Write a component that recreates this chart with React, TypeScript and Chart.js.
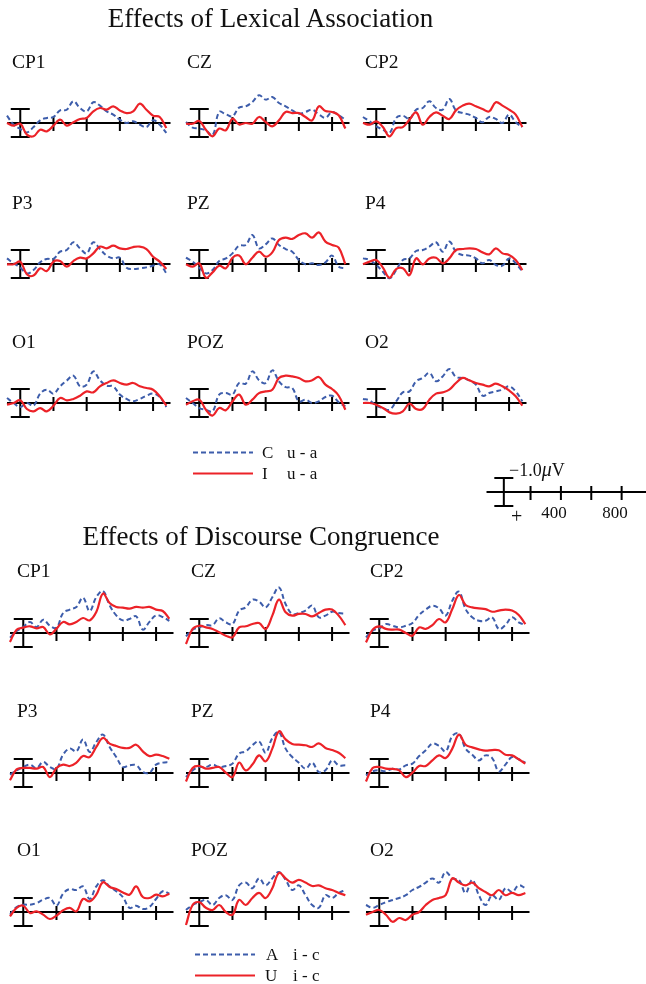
import React, { useEffect, useRef } from "react";
import { Chart, registerables } from "chart.js";

Chart.register(...registerables);

// ---------- data ----------
const TIMES_MS = [-80, -40, 0, 40, 80, 120, 160, 200, 240, 280, 320, 360, 400, 440, 480, 520, 560, 600, 640, 680, 720, 760, 800, 840, 880];
const TICK_MS = [200, 400, 600, 800];
const ELECTRODES = ["CP1", "CZ", "CP2", "P3", "PZ", "P4", "O1", "POZ", "O2"];
const SCALE_TICK_LABELS = ["400", "800"];

// Effects of Lexical Association (µV, negative up)
const lexC_CP1 = [-0.52, 0.12, 0.43, 0.67, 0.29, -0.19, -0.36, -0.43, -0.9, -0.95, -1.55, -1.07, -0.83, -1.48, -1.24, -0.83, -0.6, -0.24, 0, -0.12, 0.12, 0.29, -0.19, 0.12, 0.71];
const lexI_CP1 = [0, 0.19, 0.05, 0.83, 0.95, 0.48, 0.6, 0.19, -0.24, 0.19, -0.05, -0.29, -0.36, -0.83, -1.07, -0.95, -1.19, -0.9, -0.71, -0.83, -1.38, -0.95, -0.52, -0.43, 0.36];
const lexC_CZ = [-0.07, 0.33, 0.4, 0.52, 0.88, -0.79, -0.62, -0.48, -1.1, -1.19, -1.5, -1.98, -1.67, -1.86, -1.43, -1.19, -0.9, -0.67, -0.79, -0.95, -0.62, -0.38, -0.79, -0.55, -0.24];
const lexI_CZ = [0.05, 0.05, -0.14, 0.48, 0.95, 0.4, 0.52, -0.31, 0.1, 0, 0.05, -0.43, -0.07, 0.24, -0.19, -0.79, -0.71, -0.71, -0.43, -0.19, -1.19, -0.86, -0.79, -0.55, 0.4];
const lexC_CP2 = [-0.43, -0.12, 0.24, 0.48, 0.71, -0.36, -0.52, -0.29, -0.95, -1.07, -1.55, -1.07, -0.95, -1.71, -0.9, -0.71, -0.6, -0.36, -0.05, -0.43, -0.29, 0, -0.6, -0.05, 0.29];
const lexI_CP2 = [0, 0.12, -0.12, 0.29, 0.95, 0.36, 0.29, -0.24, -0.76, 0.12, -0.43, -0.76, -0.52, -0.29, -0.9, -1.24, -1.38, -1.19, -1.0, -0.83, -1.48, -1.24, -0.95, -0.6, 0.29];
const lexC_P3 = [-0.4, -0.05, 0.26, 0.67, 0.43, -0.12, -0.36, -0.36, -0.88, -1.0, -1.55, -1.12, -0.76, -1.55, -1.07, -0.6, -0.4, -0.45, 0.26, 0.36, 0.31, 0.24, 0.12, 0.02, 0.67];
const lexI_P3 = [0.02, 0.02, -0.17, 0.74, 0.83, 0.31, 0.5, -0.17, -0.21, 0.19, -0.21, -0.45, -0.4, -0.76, -1.24, -1.12, -1.31, -1.12, -1.07, -1.21, -1.24, -1.07, -0.52, -0.17, 0.36];
const lexC_PZ = [-0.45, -0.17, 0.26, 0.67, 0.43, -0.21, -0.4, -0.76, -1.31, -1.36, -2.07, -1.12, -1.4, -1.83, -1.36, -1.07, -0.88, -0.29, 0.02, -0.05, 0.07, -0.12, -0.6, 0.19, 0.31];
const lexI_PZ = [0.02, 0.19, -0.05, 0.98, 0.6, 0.12, 0.31, -0.45, -0.6, 0.02, -0.45, -0.88, -0.52, -0.83, -1.71, -1.88, -1.79, -2.07, -2.19, -1.88, -2.26, -1.6, -1.36, -1.17, 0.02];
const lexC_P4 = [-0.4, -0.29, 0.07, 0.55, 1.02, 0.43, -0.29, -0.4, -0.93, -1.0, -1.24, -1.55, -0.88, -1.6, -0.88, -0.64, -0.6, -0.4, -0.05, -0.29, 0.07, 0.12, -0.4, -0.05, 0.55];
const lexI_P4 = [0.02, -0.17, -0.29, 0.26, 0.98, 0.36, 0.31, 0.79, -0.4, 0.02, -0.4, -0.45, -0.05, -0.4, -1.0, -1.07, -1.12, -1.07, -0.83, -0.69, -1.12, -0.76, -0.64, -0.29, 0.43];
const lexC_O1 = [-0.36, 0, 0.29, 0, 0.19, -0.67, -0.95, -0.67, -1.19, -1.6, -1.95, -1.19, -1.31, -2.26, -1.62, -1.24, -1.19, -0.6, -0.29, -0.12, -0.29, -0.52, -0.67, -0.43, 0.29];
const lexI_O1 = [0.12, 0, -0.19, 0.43, 0.6, 0.36, 0.6, 0.19, -0.36, -0.19, -0.29, -0.52, -0.83, -0.76, -1.19, -1.43, -1.62, -1.43, -1.31, -1.43, -1.19, -1.07, -0.95, -0.48, 0.19];
const lexC_POZ = [-0.36, 0, 0.36, 0.48, 0.6, -0.6, -0.71, -0.6, -1.43, -1.38, -2.26, -1.62, -1.43, -2.33, -1.55, -1.14, -1.07, -0.12, -0.24, 0, -0.12, -0.43, -0.52, -0.05, 0.24];
const lexI_POZ = [0.12, -0.12, -0.24, 0.48, 0.9, 0.36, 0.52, -0.12, -0.6, 0.12, -0.24, -0.71, -0.83, -0.95, -1.79, -1.95, -1.9, -1.79, -1.55, -1.62, -1.86, -1.31, -1.0, -0.52, 0.48];
const lexC_O2 = [-0.29, -0.19, 0.19, 0.36, 0.48, -0.12, -0.76, -0.83, -1.55, -1.79, -2.14, -1.55, -1.9, -2.43, -1.86, -1.79, -1.62, -1.31, -0.52, -0.71, -0.83, -0.95, -1.19, -0.83, -0.12];
const lexI_O2 = [0, 0, 0.12, 0.36, 0.67, 0.76, 0.6, 0.05, 0.43, 0.43, -0.24, -0.67, -0.76, -0.95, -1.43, -1.79, -1.62, -1.43, -1.31, -1.19, -1.38, -1.19, -0.9, -0.48, 0.19];

// Effects of Discourse Congruence
const disA_CP1 = [0.33, -0.14, -0.43, -0.79, -0.43, -0.95, -0.52, -0.38, -1.43, -1.67, -1.86, -2.52, -1.57, -2.57, -3.0, -1.98, -1.26, -0.9, -1.0, -1.19, -0.24, -0.79, -1.26, -1.14, -0.86];
const disU_CP1 = [0.64, -0.24, -0.38, -0.48, -0.33, -0.43, 0.1, -0.31, -0.79, -0.62, -0.79, -1.07, -0.9, -1.5, -2.81, -2.14, -1.86, -1.81, -1.74, -1.86, -1.81, -1.86, -1.67, -1.57, -1.02];
const disA_CZ = [0.24, -0.24, -0.4, -0.57, -0.57, -1.05, -0.76, -0.64, -1.6, -1.83, -2.38, -2.24, -1.83, -2.55, -3.26, -2.07, -1.36, -1.43, -1.6, -1.95, -1.12, -1.24, -1.52, -1.43, -1.36];
const disU_CZ = [0.79, -0.29, -0.52, -0.4, -0.29, -0.05, 0.19, 0.31, -0.4, -0.48, -0.64, -0.71, -0.29, -1.24, -2.38, -1.48, -1.24, -1.36, -1.36, -1.19, -1.43, -1.67, -1.67, -1.24, -0.57];
const disA_CP2 = [0.31, -0.17, -0.33, -0.64, -0.52, -0.4, -0.52, -0.71, -1.29, -1.67, -1.95, -1.76, -1.24, -2.31, -2.95, -1.71, -1.12, -0.88, -0.88, -1.12, -0.29, -0.57, -1.12, -0.76, -0.57];
const disU_CP2 = [0.67, -0.24, -0.48, -0.29, -0.24, -0.24, 0, 0.19, -0.4, -0.29, -0.57, -1.0, -0.76, -1.71, -2.71, -2.0, -1.83, -1.76, -1.71, -1.52, -1.6, -1.67, -1.6, -1.29, -0.64];
const disA_P3 = [0.12, -0.19, -0.43, -0.6, -0.36, -0.79, -0.43, -0.31, -1.31, -1.74, -1.55, -2.4, -1.5, -2.21, -2.74, -1.86, -1.14, -0.43, -0.55, -0.55, -0.07, -0.02, -0.6, -0.74, -0.79];
const disU_P3 = [0.52, -0.26, -0.36, -0.36, -0.31, -0.43, 0.29, -0.36, -0.6, -0.5, -0.74, -1.21, -1.14, -1.86, -2.5, -2.1, -1.93, -1.79, -1.79, -2.02, -1.55, -1.21, -1.31, -1.21, -1.02];
const disA_PZ = [0.29, -0.19, -0.43, -0.43, -0.6, -0.43, -0.5, -0.67, -1.38, -1.55, -1.98, -2.26, -1.45, -2.5, -2.93, -1.74, -1.14, -0.74, -0.31, -0.74, -0.07, -0.19, -0.9, -0.55, -0.55];
const disU_PZ = [0.6, -0.36, -0.5, -0.31, -0.36, -0.43, -0.02, 0.29, -0.74, -0.19, -0.6, -1.26, -0.83, -1.74, -2.98, -2.4, -2.07, -2.02, -1.98, -1.86, -2.12, -1.79, -1.64, -1.45, -1.07];
const disA_P4 = [0.17, -0.12, -0.19, -0.12, -0.31, -0.26, -0.55, -0.67, -1.21, -1.62, -2.1, -1.93, -1.55, -2.64, -2.81, -1.74, -1.31, -0.9, -1.26, -1.07, -0.12, -0.6, -1.14, -0.98, -0.74];
const disU_P4 = [0.6, -0.36, -0.43, -0.31, -0.29, -0.19, 0.29, -0.02, -0.5, -0.5, -0.9, -1.26, -1.07, -1.74, -2.74, -2.02, -1.83, -1.69, -1.6, -1.64, -1.62, -1.31, -1.26, -0.98, -0.67];
const disA_O1 = [0.19, -0.36, -0.52, -0.52, -0.64, -0.88, -1.0, -0.45, -1.31, -1.64, -1.57, -1.83, -0.93, -1.83, -2.26, -1.83, -1.48, -1.07, -0.29, -0.45, -0.21, -0.36, -0.93, -1.48, -1.31];
const disU_O1 = [0.31, -0.29, -0.45, 0.07, -0.05, 0.19, 0.5, 0.26, -0.12, -0.29, -0.05, -0.93, -0.76, -1.24, -2.12, -1.79, -1.64, -1.4, -1.24, -1.83, -1.07, -1.0, -1.24, -1.12, -1.31];
const disA_POZ = [-0.14, -0.5, -0.7, -0.86, -0.5, -1.0, -1.2, -0.86, -1.9, -2.1, -1.7, -2.4, -1.9, -2.4, -2.86, -2.3, -1.57, -1.9, -1.2, -0.5, -0.3, -1.2, -1.0, -1.36, -1.57];
const disU_POZ = [0.93, -0.5, -0.7, -0.3, -0.14, -0.5, 0, 0.2, -0.86, -0.5, -1.0, -1.36, -1.0, -1.7, -2.8, -2.4, -2.1, -2.3, -2.1, -1.86, -1.9, -1.7, -1.57, -1.36, -1.2];
const disA_O2 = [-0.5, -0.3, -0.5, -0.7, -0.86, -1.0, -1.2, -1.57, -1.8, -2.1, -2.4, -2.1, -2.86, -2.4, -2.3, -1.36, -2.3, -1.2, -0.5, -1.2, -0.86, -1.7, -1.43, -1.9, -1.7];
const disU_O2 = [0.2, 0, -0.14, 0.2, 0.7, 0.43, 0.57, 0.2, 0, -0.5, -0.86, -1.0, -1.2, -2.4, -2.1, -1.9, -2.1, -1.7, -1.43, -1.2, -1.57, -1.2, -1.36, -1.2, -1.36];

const LEX_BLUE = [lexC_CP1, lexC_CZ, lexC_CP2, lexC_P3, lexC_PZ, lexC_P4, lexC_O1, lexC_POZ, lexC_O2];
const LEX_RED = [lexI_CP1, lexI_CZ, lexI_CP2, lexI_P3, lexI_PZ, lexI_P4, lexI_O1, lexI_POZ, lexI_O2];
const DIS_BLUE = [disA_CP1, disA_CZ, disA_CP2, disA_P3, disA_PZ, disA_P4, disA_O1, disA_POZ, disA_O2];
const DIS_RED = [disU_CP1, disU_CZ, disU_CP2, disU_P3, disU_PZ, disU_P4, disU_O1, disU_POZ, disU_O2];

// ---------- styling / layout ----------
const BLUE = "#3d5dab";
const RED = "#ec2228";
const FONT = "'Liberation Serif', 'Times New Roman', serif";

const PANEL_W = 171;
const PANEL_H = 70;
const X_MIN = -110;
const X_MAX = 920;
const Y_MIN = -3.5;
const Y_MAX = 1.5;
const ZERO_X = (0 - X_MIN) * PANEL_W / (X_MAX - X_MIN);
const ZERO_Y = (0 - Y_MIN) * PANEL_H / (Y_MAX - Y_MIN);

const TOP_GROUP = { barX: [20, 199, 376], base: [123, 264, 403], labelX: [12, 187, 365], labelDy: 55 };
const BOT_GROUP = { barX: [23, 199, 379], base: [633, 773, 912], labelX: [17, 191, 370], labelDy: 56 };

const erpAxesPlugin = {
  id: "erpAxes",
  beforeDatasetsDraw(chart: any, _args: any, opts: any) {
    const { ctx } = chart;
    const x = chart.scales.x;
    const y = chart.scales.y;
    const y0 = y.getPixelForValue(0);
    ctx.save();
    ctx.strokeStyle = "#000";
    ctx.lineWidth = 2;
    ctx.lineCap = "butt";
    ctx.beginPath();
    ctx.moveTo(x.getPixelForValue(opts.from), y0);
    ctx.lineTo(x.getPixelForValue(opts.to), y0);
    for (const t of opts.ticks) {
      const px = x.getPixelForValue(t);
      ctx.moveTo(px, y0 - opts.tickUp);
      ctx.lineTo(px, y0 + opts.tickDown);
    }
    const bx = x.getPixelForValue(opts.barTime);
    const yTop = y.getPixelForValue(-opts.barUv);
    const yBot = y.getPixelForValue(opts.barUv);
    ctx.moveTo(bx, yTop);
    ctx.lineTo(bx, yBot);
    ctx.moveTo(bx - opts.cap, yTop);
    ctx.lineTo(bx + opts.cap, yTop);
    ctx.moveTo(bx - opts.cap, yBot);
    ctx.lineTo(bx + opts.cap, yBot);
    ctx.stroke();
    ctx.restore();
  },
};

type PanelProps = {
  left: number;
  top: number;
  width: number;
  xMin: number;
  xMax: number;
  blue?: number[];
  red?: number[];
  axisFrom: number;
  axisTo: number;
  barTime: number;
};

function ErpPanel({ left, top, width, xMin, xMax, blue, red, axisFrom, axisTo, barTime }: PanelProps) {
  const ref = useRef<HTMLCanvasElement>(null);
  useEffect(() => {
    if (!ref.current) return;
    const datasets: any[] = [];
    if (red) {
      datasets.push({
        label: "red",
        data: TIMES_MS.map((t, i) => ({ x: t, y: red[i] })),
        borderColor: RED,
        borderWidth: 2.2,
        pointRadius: 0,
        tension: 0.4,
        fill: false,
      });
    }
    if (blue) {
      datasets.push({
        label: "blue",
        data: TIMES_MS.map((t, i) => ({ x: t, y: blue[i] })),
        borderColor: BLUE,
        borderWidth: 2,
        borderDash: [5, 3],
        pointRadius: 0,
        tension: 0.4,
        fill: false,
      });
    }
    const chart = new Chart(ref.current, {
      type: "line",
      data: { datasets },
      options: {
        animation: false,
        responsive: false,
        maintainAspectRatio: false,
        events: [],
        layout: { padding: 0 },
        scales: {
          x: { type: "linear", min: xMin, max: xMax, display: false },
          y: { type: "linear", min: Y_MIN, max: Y_MAX, reverse: true, display: false },
        },
        plugins: {
          legend: { display: false },
          tooltip: { enabled: false },
          title: { display: false },
          erpAxes: {
            from: axisFrom,
            to: axisTo,
            ticks: TICK_MS,
            tickUp: 6,
            tickDown: 8,
            barTime,
            barUv: 1,
            cap: 9.5,
          },
        } as any,
      },
      plugins: [erpAxesPlugin],
    });
    return () => chart.destroy();
  }, [blue, red, xMin, xMax, axisFrom, axisTo, barTime]);
  return (
    <canvas
      ref={ref}
      width={width}
      height={PANEL_H}
      style={{ position: "absolute", left, top, width, height: PANEL_H }}
    />
  );
}

function Group({ g, blues, reds }: { g: typeof TOP_GROUP; blues: number[][]; reds: number[][] }) {
  const items: any[] = [];
  ELECTRODES.forEach((name, i) => {
    const r = Math.floor(i / 3);
    const c = i % 3;
    items.push(
      <ErpPanel
        key={name}
        left={Math.round(g.barX[c] - ZERO_X)}
        top={g.base[r] - ZERO_Y}
        width={PANEL_W}
        xMin={X_MIN}
        xMax={X_MAX}
        blue={blues[i]}
        red={reds[i]}
        axisFrom={-80}
        axisTo={905}
        barTime={0}
      />
    );
  });
  return <>{items}</>;
}

function GroupLabels({ g }: { g: typeof TOP_GROUP }) {
  return (
    <>
      {ELECTRODES.map((name, i) => {
        const r = Math.floor(i / 3);
        const c = i % 3;
        return (
          <text key={name} x={g.labelX[c]} y={g.base[r] - g.labelDy} fontSize={19.5} fontFamily={FONT} fill="#111">
            {name}
          </text>
        );
      })}
    </>
  );
}

// scale legend mapping
const SCALE_W = 167;
const SCALE_XMIN = -100;
const SCALE_XMAX = 1000;
const SCALE_LEFT = 485;
const SCALE_BASE = 492;

export default function App() {
  return (
    <div
      style={{
        position: "absolute",
        left: 0,
        top: 0,
        width: 646,
        height: 984,
        background: "#fff",
        overflow: "hidden",
      }}
    >
      <Group g={TOP_GROUP} blues={LEX_BLUE} reds={LEX_RED} />
      <Group g={BOT_GROUP} blues={DIS_BLUE} reds={DIS_RED} />
      <ErpPanel
        left={SCALE_LEFT}
        top={SCALE_BASE - ZERO_Y}
        width={SCALE_W}
        xMin={SCALE_XMIN}
        xMax={SCALE_XMAX}
        axisFrom={-90}
        axisTo={1000}
        barTime={24}
      />
      <svg
        width={646}
        height={984}
        style={{ position: "absolute", left: 0, top: 0, pointerEvents: "none" }}
      >
        <text x={270.5} y={27} fontSize={27} fontFamily={FONT} textAnchor="middle" fill="#111">
          Effects of Lexical Association
        </text>
        <text x={261} y={545} fontSize={27} fontFamily={FONT} textAnchor="middle" fill="#111">
          Effects of Discourse Congruence
        </text>
        <GroupLabels g={TOP_GROUP} />
        <GroupLabels g={BOT_GROUP} />

        {/* legend: lexical */}
        <line x1={193} y1={452.5} x2={253} y2={452.5} stroke={BLUE} strokeWidth={2} strokeDasharray="5 3" />
        <line x1={193} y1={473.5} x2={253} y2={473.5} stroke={RED} strokeWidth={2.2} />
        <text x={262} y={458} fontSize={17} fontFamily={FONT} fill="#111">C</text>
        <text x={287} y={458} fontSize={17} fontFamily={FONT} fill="#111" style={{ whiteSpace: "pre" }}>u - a</text>
        <text x={262} y={479} fontSize={17} fontFamily={FONT} fill="#111">I</text>
        <text x={287} y={479} fontSize={17} fontFamily={FONT} fill="#111" style={{ whiteSpace: "pre" }}>u - a</text>

        {/* legend: discourse */}
        <line x1={195} y1={954.5} x2={255} y2={954.5} stroke={BLUE} strokeWidth={2} strokeDasharray="5 3" />
        <line x1={195} y1={975.5} x2={255} y2={975.5} stroke={RED} strokeWidth={2.2} />
        <text x={266} y={960} fontSize={17} fontFamily={FONT} fill="#111">A</text>
        <text x={293} y={960} fontSize={17} fontFamily={FONT} fill="#111" style={{ whiteSpace: "pre" }}>i - c</text>
        <text x={265} y={981} fontSize={17} fontFamily={FONT} fill="#111">U</text>
        <text x={293} y={981} fontSize={17} fontFamily={FONT} fill="#111" style={{ whiteSpace: "pre" }}>i - c</text>

        {/* scale legend text */}
        <text x={509} y={476} fontSize={18} fontFamily={FONT} fill="#111">
          −1.0<tspan fontStyle="italic" fontSize={20}>μ</tspan>V
        </text>
        <text x={511} y={523} fontSize={20} fontFamily={FONT} fill="#111">+</text>
        <text x={554} y={518} fontSize={17} fontFamily={FONT} fill="#111" textAnchor="middle">{SCALE_TICK_LABELS[0]}</text>
        <text x={615} y={518} fontSize={17} fontFamily={FONT} fill="#111" textAnchor="middle">{SCALE_TICK_LABELS[1]}</text>
      </svg>
    </div>
  );
}
